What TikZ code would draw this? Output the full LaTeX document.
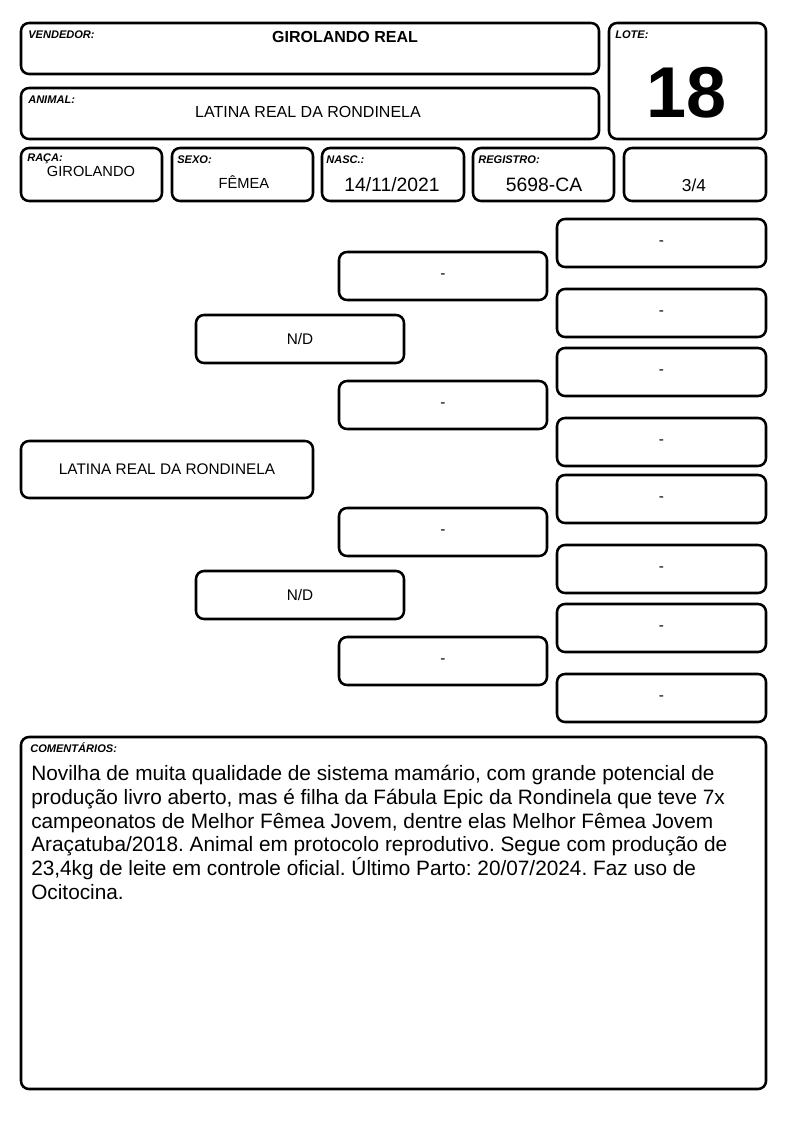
\documentclass[tikz,border=0pt]{standalone}
\usepackage{fontspec}
\setmainfont{Liberation Sans}
\frenchspacing
\begin{document}
\begin{tikzpicture}[x=0.75pt,y=-0.75pt,
  box/.style={draw=black,line width=1.9pt,rounded corners=6pt,inner sep=0pt,align=center},
  lbl/.style={anchor=base west,inner sep=0pt,font=\fontsize{8.3}{10}\selectfont\bfseries\itshape},
  val/.style={inner sep=0pt,anchor=base},
]
\useasboundingbox (0,0) rectangle (794,1123);
\newcommand\pbox[6]{\node[box,minimum width={(#4-#2)*0.75pt},minimum height={(#5-#3)*0.75pt}] (#1) at ({(#2+#4)/2},{(#3+#5)/2}) {#6};}
\newcommand\ptxt[1]{\raisebox{-1.5pt}{#1}}
% header
\pbox{vend}{21}{23}{599}{74}{}
\pbox{anim}{21}{88}{599}{139}{}
\pbox{lote}{609}{23}{766}{139}{}
\pbox{raca}{21}{148}{162}{201}{}
\pbox{sexo}{172}{148}{313}{201}{}
\pbox{nasc}{322}{148}{464}{201}{}
\pbox{reg}{473}{148}{614}{201}{}
\pbox{frac}{624}{148}{766}{201}{}
\node[lbl] (lv) at (28,39) {VENDEDOR:};
\node[val,font=\fontsize{12}{14}\selectfont\bfseries] (tv) at (345,43) {GIROLANDO REAL};
\node[lbl] (la) at (28,104) {ANIMAL:};
\node[val,font=\fontsize{12}{14}\selectfont] (ta) at (308,118) {LATINA REAL DA RONDINELA};
\node[lbl] (ll) at (615,39) {LOTE:};
\node[val,font=\fontsize{54}{60}\selectfont\bfseries] (tl) at (687,118) {18};
\node[lbl] (lr) at (27,162) {RAÇA:};
\node[val,font=\fontsize{11}{13}\selectfont] (tr) at (91,177) {GIROLANDO};
\node[lbl] (ls) at (177,164) {SEXO:};
\node[val,font=\fontsize{11}{13}\selectfont] (ts) at (244,189) {FÊMEA};
\node[lbl] (ln) at (326,164) {NASC.:};
\node[val,font=\fontsize{14.5}{16}\selectfont] (tn) at (392,192) {14/11/2021};
\node[lbl] (lg) at (478,164) {REGISTRO:};
\node[val,font=\fontsize{14.5}{16}\selectfont] (tg) at (544,192) {5698-CA};
\node[val,font=\fontsize{13}{15}\selectfont] (tf) at (694,192) {3/4};
% pedigree
\begin{scope}[every node/.append style={font=\fontsize{11.5}{13}\selectfont}]
\pbox{p0}{21}{441}{313}{498}{\ptxt{LATINA REAL DA RONDINELA}}
\pbox{p1}{196}{315}{404}{363}{\ptxt{N/D}}
\pbox{p2}{196}{571}{404}{619}{\ptxt{N/D}}
\pbox{g1}{339}{252}{547}{300}{\ptxt{-}}
\pbox{g2}{339}{381}{547}{429}{\ptxt{-}}
\pbox{g3}{339}{508}{547}{556}{\ptxt{-}}
\pbox{g4}{339}{637}{547}{685}{\ptxt{-}}
\pbox{h1}{557}{219}{766}{267}{\ptxt{-}}
\pbox{h2}{557}{289}{766}{337}{\ptxt{-}}
\pbox{h3}{557}{348}{766}{396}{\ptxt{-}}
\pbox{h4}{557}{418}{766}{466}{\ptxt{-}}
\pbox{h5}{557}{475}{766}{523}{\ptxt{-}}
\pbox{h6}{557}{545}{766}{593}{\ptxt{-}}
\pbox{h7}{557}{604}{766}{652}{\ptxt{-}}
\pbox{h8}{557}{674}{766}{722}{\ptxt{-}}
\end{scope}
% comments
\pbox{com}{21}{737}{766}{1089}{}
\node[lbl] (lc) at (30,752) {COMENTÁRIOS:};
\node[anchor=north west,inner sep=0pt,align=left,font=\fontsize{15.6}{17.8}\selectfont] (tc) at (31,765) {Novilha de muita qualidade de sistema mamário, com grande potencial de\\
produção livro aberto, mas é filha da Fábula Epic da Rondinela que teve 7x\\
campeonatos de Melhor Fêmea Jovem, dentre elas Melhor Fêmea Jovem\\
Araçatuba/2018. Animal em protocolo reprodutivo. Segue com produção de\\
23,4kg de leite em controle oficial. Último Parto: 20/07/2024. Faz uso de\\
Ocitocina.};
\end{tikzpicture}
\end{document}
